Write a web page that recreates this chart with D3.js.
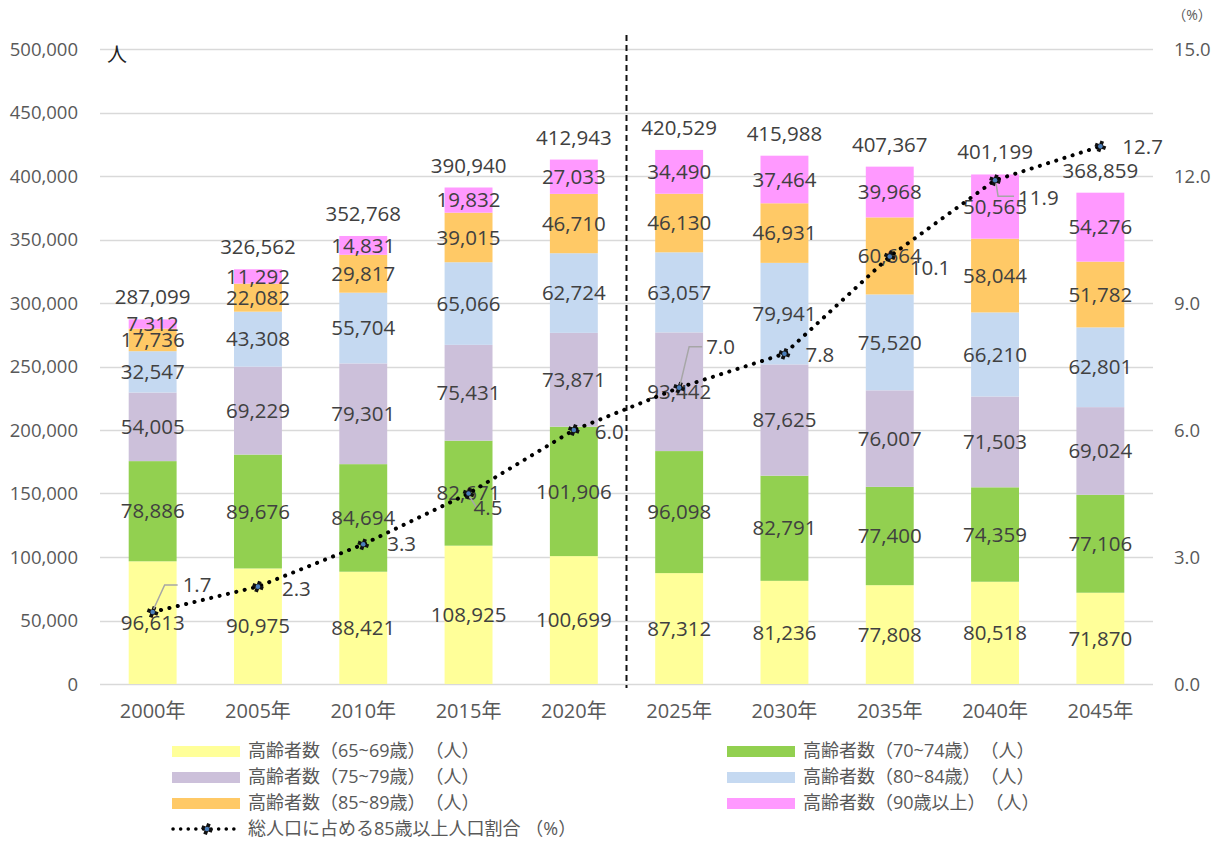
<!DOCTYPE html>
<html><head><meta charset="utf-8">
<script src="https://cdn.jsdelivr.net/npm/d3@7"></script>
<style>
body{margin:0;background:#fff;}
text{font-family:"Open Sans","Noto Sans CJK JP",sans-serif;}
</style></head>
<body><svg id="c" width="1219" height="841"></svg>
<script>
const categories = ["2000年","2005年","2010年","2015年","2020年","2025年","2030年","2035年","2040年","2045年"];
const age65_69 = [96613,90975,88421,108925,100699,87312,81236,77808,80518,71870];
const age70_74 = [78886,89676,84694,82671,101906,96098,82791,77400,74359,77106];
const age75_79 = [54005,69229,79301,75431,73871,93442,87625,76007,71503,69024];
const age80_84 = [32547,43308,55704,65066,62724,63057,79941,75520,66210,62801];
const age85_89 = [17736,22082,29817,39015,46710,46130,46931,60664,58044,51782];
const age90p   = [7312,11292,14831,19832,27033,34490,37464,39968,50565,54276];
const totals   = [287099,326562,352768,390940,412943,420529,415988,407367,401199,368859];
const share85  = [1.7,2.3,3.3,4.5,6.0,7.0,7.8,10.1,11.9,12.7];
const leftTicks = [0,50000,100000,150000,200000,250000,300000,350000,400000,450000,500000];
const rightTicks = [0,3,6,9,12,15];
const seriesNames = ["高齢者数（65~69歳）　（人）","高齢者数（70~74歳）　（人）","高齢者数（75~79歳）　（人）","高齢者数（80~84歳）　（人）","高齢者数（85~89歳）　（人）","高齢者数（90歳以上）　（人）"];
const lineName = "総人口に占める85歳以上人口割合 （%）";
const colors = ["#FFFF99","#92D050","#CCC0DA","#C5D9F1","#FFC966","#FF99FF"];

const svg = d3.select("#c");
const L=100,R=1153,T=49,B=684;
const x = d3.scaleBand().domain(categories).range([L,R]).paddingInner(0.545).paddingOuter(0.2725);
const y = d3.scaleLinear().domain([0,500000]).range([B,T]);
const y2 = d3.scaleLinear().domain([0,15]).range([B,T]);
const txt="#595959", lbl="#404040";

// gridlines
svg.append("g").selectAll("line").data(leftTicks.slice(1)).join("line")
  .attr("x1",L).attr("x2",R).attr("y1",d=>Math.round(y(d))+0.5).attr("y2",d=>Math.round(y(d))+0.5)
  .attr("stroke","#D9D9D9").attr("stroke-width",1.5);
svg.append("line").attr("x1",L).attr("x2",R).attr("y1",B+0.5).attr("y2",B+0.5).attr("stroke","#D9D9D9").attr("stroke-width",1.5);

// left axis
const ga = svg.append("g").attr("transform",`translate(${L-19},0)`)
  .call(d3.axisLeft(y).tickValues(leftTicks).tickSize(0).tickFormat(d3.format(",")));
ga.select(".domain").remove();
ga.selectAll("text").attr("fill",txt).style("font-size","18.5px").attr("dy","0.35em");
// right axis
const gr = svg.append("g").attr("transform",`translate(${R+18},0)`)
  .call(d3.axisRight(y2).tickValues(rightTicks).tickSize(0).tickFormat(d3.format(".1f")));
gr.select(".domain").remove();
gr.selectAll("text").attr("fill",txt).style("font-size","18.5px").attr("dy","0.35em");
// bottom axis
const gb = svg.append("g").attr("transform",`translate(0,${B})`)
  .call(d3.axisBottom(x).tickSize(0));
gb.select(".domain").remove();
gb.selectAll("text").attr("fill",txt).style("font-size","20px").attr("dy","1.55em");

svg.append("text").attr("x",117).attr("y",62).attr("text-anchor","middle").attr("fill","#222").style("font-size","20px").text("人");
svg.append("text").attr("x",1192).attr("y",20).attr("text-anchor","middle").attr("fill",txt).style("font-size","14px").text("（%）");

// stacked bars
const seriesArr=[age65_69,age70_74,age75_79,age80_84,age85_89,age90p];
const rows = categories.map((c,i)=>{const o={cat:c}; seriesArr.forEach((s,k)=>o["s"+k]=s[i]); return o;});
const stack = d3.stack().keys(seriesArr.map((s,k)=>"s"+k))(rows);
const gBars = svg.append("g");
stack.forEach((layer,k)=>{
  gBars.append("g").selectAll("rect").data(layer).join("rect")
    .attr("x",d=>x(d.data.cat)).attr("width",x.bandwidth())
    .attr("y",d=>y(d[1])).attr("height",d=>y(d[0])-y(d[1]))
    .attr("fill",colors[k]);
});

// dashed separator
const sepX = (x(categories[4])+x.bandwidth()+x(categories[5]))/2;
svg.append("line").attr("x1",sepX).attr("x2",sepX).attr("y1",35).attr("y2",688)
  .attr("stroke","#111").attr("stroke-width",2).attr("stroke-dasharray","6,4");

// segment labels
stack.forEach((layer,k)=>{
  svg.append("g").selectAll("text").data(layer).join("text")
    .attr("x",d=>x(d.data.cat)+x.bandwidth()/2)
    .attr("y",d=>(y(d[0])+y(d[1]))/2)
    .attr("dy","0.35em").attr("text-anchor","middle")
    .attr("fill",lbl).style("font-size","20.5px")
    .text(d=>d3.format(",")(d[1]-d[0]));
});
// totals
svg.append("g").selectAll("text").data(categories).join("text")
  .attr("x",d=>x(d)+x.bandwidth()/2)
  .attr("y",(d,i)=>y(d3.sum(seriesArr,s=>s[i]))-15)
  .attr("text-anchor","middle").attr("fill",lbl).style("font-size","20.5px")
  .text((d,i)=>d3.format(",")(totals[i]));

// line
const cx = i=>x(categories[i])+x.bandwidth()/2;
const line = d3.line().x((d,i)=>cx(i)).y(d=>y2(d));
svg.append("path").datum(share85).attr("d",line).attr("fill","none")
  .attr("stroke","#000").attr("stroke-width",4).attr("stroke-linecap","round").attr("stroke-dasharray","0.1,8.5");

function marker(g,px,py){
  g.append("path").attr("transform",`translate(${px},${py}) rotate(20)`)
   .attr("d",d3.symbol().type(d3.symbolCross).size(70)()).attr("fill","#111");
  g.append("circle").attr("cx",px).attr("cy",py).attr("r",2.3).attr("fill","#4A7EBB");
}
const gm = svg.append("g");
share85.forEach((v,i)=>marker(gm,cx(i),y2(v)));

// line labels (layout offsets from each point)
const lblOff = [[30,-27],[24,2],[24,0],[5,14],[21,2],[27,-41],[21,1],[20,11],[23,18],[22,0]];
share85.forEach((v,i)=>{
  const px=cx(i),py=y2(v),lx=px+lblOff[i][0],ly=py+lblOff[i][1];
  let pts=null;
  if(i===0) pts=[[px+1,py-3],[px+12,ly],[lx-5,ly]];
  if(i===3) pts=[[px+1,py+3],[px+8,ly]];
  if(i===5) pts=[[px+1,py-3],[px+10,ly],[lx-4,ly]];
  if(i===8) pts=[[px+1,py+3],[px+3,ly-2],[lx-4,ly-2]];
  if(pts) svg.append("path").attr("d",d3.line()(pts)).attr("fill","none").attr("stroke","#A6A6A6").attr("stroke-width",1.5);
  svg.append("text").attr("x",lx).attr("y",ly).attr("dy","0.35em")
    .attr("fill",lbl).style("font-size","20.5px").text(d3.format(".1f")(v));
});

// legend
const leg = svg.append("g");
const legItems = [
  {n:seriesNames[0],c:colors[0],x:172,y:751},
  {n:seriesNames[2],c:colors[2],x:172,y:777},
  {n:seriesNames[4],c:colors[4],x:172,y:803},
  {n:seriesNames[1],c:colors[1],x:727,y:751},
  {n:seriesNames[3],c:colors[3],x:727,y:777},
  {n:seriesNames[5],c:colors[5],x:727,y:803}
];
legItems.forEach(it=>{
  leg.append("rect").attr("x",it.x).attr("y",it.y-5).attr("width",68).attr("height",11).attr("fill",it.c);
  leg.append("text").attr("x",it.x+76).attr("y",it.y).attr("dy","0.35em").attr("fill",txt).style("font-size","18px").text(it.n);
});
leg.append("line").attr("x1",173).attr("x2",240).attr("y1",829).attr("y2",829)
  .attr("stroke","#000").attr("stroke-width",3.5).attr("stroke-linecap","round").attr("stroke-dasharray","0.1,7.5");
marker(leg,207,829);
leg.append("text").attr("x",248).attr("y",829).attr("dy","0.35em").attr("fill",txt).style("font-size","18px").text(lineName);
</script></body></html>
